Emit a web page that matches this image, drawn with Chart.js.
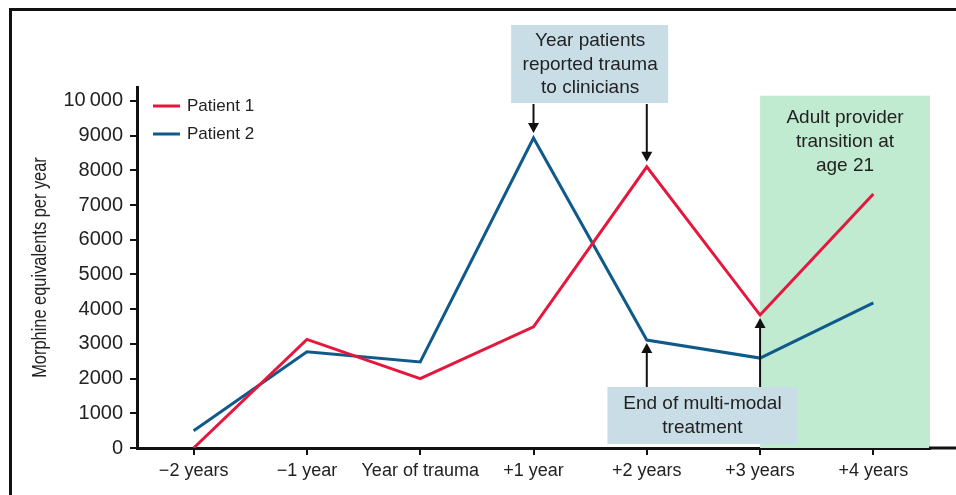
<!DOCTYPE html>
<html>
<head>
<meta charset="utf-8">
<script src="https://cdn.jsdelivr.net/npm/chart.js@4.4.1/dist/chart.umd.min.js"></script>
<style>
  html, body { margin: 0; padding: 0; background: #fff; overflow: hidden; }
  #wrap { position: relative; width: 956px; height: 495px; }
  #frame { position: absolute; left: 9px; top: 8px; width: 960px; height: 500px;
           border-left: 3px solid #111; border-top: 3px solid #111; }
  canvas { position: absolute; left: 0; top: 0; }
</style>
</head>
<body>
<div id="wrap">
  <div id="frame"></div>
  <canvas id="grafik" width="956" height="495"></canvas>
</div>
<script>
// categories and values
const years = ['\u22122 years', '\u22121 year', 'Year of trauma', '+1 year', '+2 years', '+3 years', '+4 years'];
const patient1 = [0, 3130, 2000, 3490, 8100, 3830, 7320];
const patient2 = [500, 2770, 2480, 8930, 3110, 2590, 4180];
const yTicks = [0, 1000, 2000, 3000, 4000, 5000, 6000, 7000, 8000, 9000, 10000];
const yTickLabels = ['0', '1000', '2000', '3000', '4000', '5000', '6000', '7000', '8000', '9000', '10\u2009000'];
const yTitle = 'Morphine equivalents per year';

// annotation texts
const traumaNote = ['Year patients', 'reported trauma', 'to clinicians'];
const treatmentNote = ['End of multi-modal', 'treatment'];
const transitionNote = ['Adult provider', 'transition at', 'age 21'];
const transitionStart = 5; // index of "+3 years"

const FONT = '"Liberation Sans", Arial, Helvetica, sans-serif';
const INK = '#222';

function strelica(ctx, x, y1, y2) {
    // line from y1 to tip at y2, arrowhead at the tip
    const dir = y2 > y1 ? 1 : -1;
    ctx.save();
    ctx.strokeStyle = '#111';
    ctx.fillStyle = '#111';
    ctx.lineWidth = 2;
    ctx.beginPath();
    ctx.moveTo(x, y1);
    ctx.lineTo(x, y2 - dir * 8);
    ctx.stroke();
    ctx.beginPath();
    ctx.moveTo(x, y2);
    ctx.lineTo(x - 5.5, y2 - dir * 10);
    ctx.lineTo(x + 5.5, y2 - dir * 10);
    ctx.closePath();
    ctx.fill();
    ctx.restore();
}

function tekst(ctx, lines, cx, firstY, step) {
    ctx.save();
    ctx.fillStyle = INK;
    ctx.font = '19px ' + FONT;
    ctx.textAlign = 'center';
    ctx.textBaseline = 'middle';
    lines.forEach((t, i) => ctx.fillText(t, cx, firstY + i * step));
    ctx.restore();
}

const ukrasi = {
    id: 'ukrasi',
    beforeDatasetsDraw(chart) {
        const { ctx, chartArea, scales: { x, y } } = chart;
        // green shading for adult provider period
        const x0 = x.getPixelForValue(transitionStart);
        const yTop = y.getPixelForValue(10150);
        ctx.save();
        ctx.fillStyle = '#c0ebd1';
        ctx.fillRect(x0, yTop, chartArea.right - x0, chartArea.bottom - yTop);
        ctx.restore();
    },
    afterDraw(chart) {
        const { ctx, chartArea, scales: { x, y } } = chart;

        // x axis line continues to the right edge
        ctx.save();
        ctx.strokeStyle = '#111';
        ctx.lineWidth = 3;
        ctx.beginPath();
        ctx.moveTo(chartArea.right - 1, chartArea.bottom);
        ctx.lineTo(chart.width, chartArea.bottom);
        ctx.stroke();
        ctx.restore();

        // condensed y axis title
        ctx.save();
        ctx.translate(40, (chartArea.top + chartArea.bottom) / 2);
        ctx.rotate(-Math.PI / 2);
        ctx.scale(0.82, 1);
        ctx.font = '20px ' + FONT;
        ctx.fillStyle = INK;
        ctx.textAlign = 'center';
        ctx.textBaseline = 'middle';
        ctx.fillText(yTitle, 0, 0);
        ctx.restore();

        // legend
        ctx.save();
        ctx.font = '17px ' + FONT;
        ctx.textBaseline = 'middle';
        chart.data.datasets.forEach((ds, i) => {
            const ly = 106 + i * 28;
            ctx.strokeStyle = ds.borderColor;
            ctx.lineWidth = 3;
            ctx.beginPath();
            ctx.moveTo(153, ly);
            ctx.lineTo(180, ly);
            ctx.stroke();
            ctx.fillStyle = INK;
            ctx.fillText(ds.label, 187, ly);
        });
        ctx.restore();

        // "Year patients reported trauma" box and arrows
        const cx1 = (x.getPixelForValue(3) + x.getPixelForValue(4)) / 2;
        ctx.fillStyle = '#c9dde6';
        ctx.fillRect(cx1 - 79, 25, 157, 78);
        tekst(ctx, traumaNote, cx1, 41, 23.5);
        strelica(ctx, x.getPixelForValue(3), 104, y.getPixelForValue(patient2[3]) - 5);
        strelica(ctx, x.getPixelForValue(4), 104, y.getPixelForValue(patient1[4]) - 5);

        // "End of multi-modal treatment" box and arrows
        strelica(ctx, x.getPixelForValue(4), 388, y.getPixelForValue(patient2[4]) + 3);
        strelica(ctx, x.getPixelForValue(5), 388, y.getPixelForValue(patient1[5]) + 3);
        const cx2 = (x.getPixelForValue(4) + x.getPixelForValue(5)) / 2 - 1;
        ctx.fillStyle = '#c9dde6';
        ctx.fillRect(cx2 - 95, 387, 190, 57);
        tekst(ctx, treatmentNote, cx2, 404, 24);

        // text in the green area
        const cx3 = (x.getPixelForValue(transitionStart) + chartArea.right) / 2;
        tekst(ctx, transitionNote, cx3, 118, 24);
    }
};

new Chart(document.getElementById('grafik'), {
    type: 'line',
    data: {
        labels: years,
        datasets: [
            {
                label: 'Patient 1',
                data: patient1,
                borderColor: '#e5173d',
                borderWidth: 3,
                pointRadius: 0,
                tension: 0,
                fill: false
            },
            {
                label: 'Patient 2',
                data: patient2,
                borderColor: '#0f5a8b',
                borderWidth: 3,
                pointRadius: 0,
                tension: 0,
                fill: false
            }
        ]
    },
    options: {
        responsive: false,
        animation: false,
        layout: { padding: { left: 0, right: 26, top: 87, bottom: 0 } },
        plugins: { legend: { display: false }, tooltip: { enabled: false } },
        scales: {
            x: {
                type: 'category',
                offset: true,
                grid: { drawOnChartArea: false, drawTicks: true, tickLength: 7, offset: false, color: '#111', lineWidth: 2 },
                border: { display: true, color: '#111', width: 3 },
                ticks: { font: { family: FONT, size: 18 }, color: INK, padding: 5, maxRotation: 0, autoSkip: false },
                afterFit: s => { s.height = 47; }
            },
            y: {
                min: 0,
                max: 10400,
                afterBuildTicks: s => { s.ticks = yTicks.map(v => ({ value: v })); },
                grid: { drawOnChartArea: false, drawTicks: true, tickLength: 7, color: '#111', lineWidth: 2 },
                border: { display: true, color: '#111', width: 3 },
                ticks: {
                    font: { family: FONT, size: 20 },
                    color: INK,
                    padding: 7,
                    callback: v => yTickLabels[yTicks.indexOf(v)]
                },
                afterFit: s => { s.width = 137; }
            }
        }
    },
    plugins: [ukrasi]
});
</script>
</body>
</html>
